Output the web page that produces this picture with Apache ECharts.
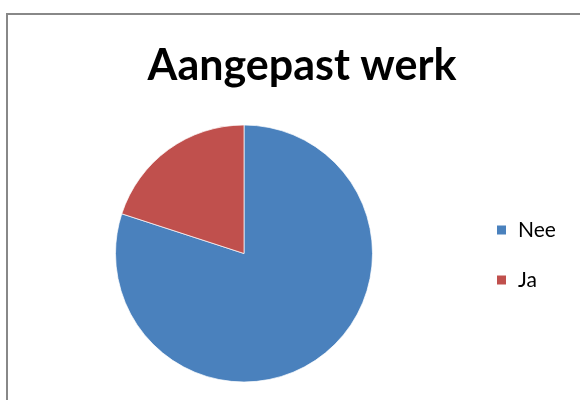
<!DOCTYPE html>
<html><head><meta charset="utf-8">
<script src="https://cdn.jsdelivr.net/npm/echarts@6/dist/echarts.min.js"></script>
<style>html,body{margin:0;padding:0;background:#fff;}#c{width:580px;height:400px;}</style>
</head><body><div id="c"></div>
<script>
const categories = ['Nee', 'Ja'];
const values = [80, 20];
const colors = ['#4A81BD', '#C0504D'];
const chart = echarts.init(document.getElementById('c'), null, {renderer: 'canvas'});
chart.setOption({
  backgroundColor: '#fff',
  animation: false,
  title: {
    text: 'Aangepast werk', left: 297, top: 40, textAlign: 'center',
    textStyle: {fontFamily: 'Lato', fontWeight: 'bold', fontSize: 43, color: '#000'}
  },
  legend: {
    orient: 'vertical', left: 495, top: 218, itemWidth: 11, itemHeight: 11, itemGap: 26,
    icon: 'rect', padding: 0,
    textStyle: {fontFamily: 'Lato', fontSize: 21, lineHeight: 24, color: '#000', padding: [0, 0, 0, 6]},
    data: categories
  },
  graphic: [{type: 'rect', shape: {x: 7, y: 14, width: 600, height: 400}, style: {fill: 'none', stroke: '#888', lineWidth: 2}, silent: true}],
  series: [{
    type: 'pie', center: [244, 253.5], radius: 128.5, startAngle: 90, clockwise: true,
    label: {show: false}, labelLine: {show: false},
    itemStyle: {borderColor: '#fff', borderWidth: 0.7},
    data: categories.map((c, i) => ({name: c, value: values[i], itemStyle: {color: colors[i]}}))
  }]
});
</script></body></html>
